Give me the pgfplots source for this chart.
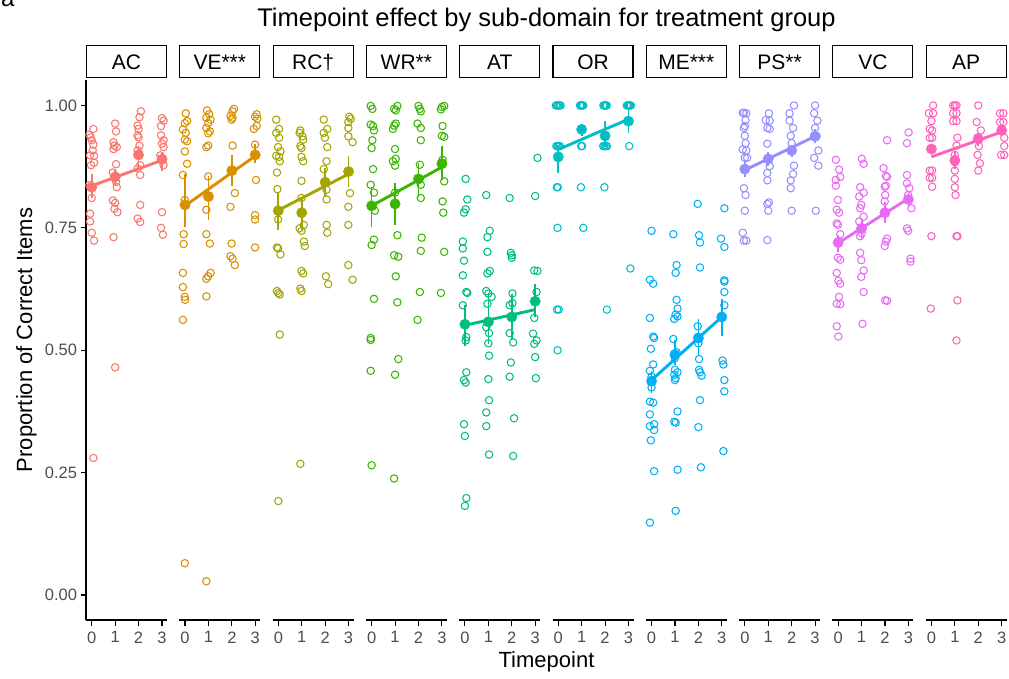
\documentclass[border=0pt]{standalone}
\usepackage{pgfplots}
\pgfplotsset{compat=1.18}
\usepackage{fontspec}
\setmainfont{Liberation Sans}
\definecolor{cAC}{HTML}{F8766D}
\definecolor{cVE}{HTML}{D89000}
\definecolor{cRC}{HTML}{A3A500}
\definecolor{cWR}{HTML}{39B600}
\definecolor{cAT}{HTML}{00BF7D}
\definecolor{cOR}{HTML}{00BFC4}
\definecolor{cME}{HTML}{00B0F6}
\definecolor{cPS}{HTML}{9590FF}
\definecolor{cVC}{HTML}{E76BF3}
\definecolor{cAP}{HTML}{FF62BC}
\definecolor{gray30}{HTML}{4D4D4D}
\newcommand{\tickfont}{\fontsize{16.5}{16.5}\selectfont}
\newcommand{\stripfont}{\fontsize{21}{21}\selectfont}
\pgfplotsset{panel/.style={
  scale only axis, width=81pt, height=539.5pt, anchor=south west,
  xmin=-0.245, xmax=3.215, ymin=-0.051, ymax=1.051,
  axis x line*=bottom, axis y line*=left,
  x axis line style={-, line width=1.1pt, black},
  y axis line style={-, line width=1.1pt, black},
  xtick={0,1,2,3}, xticklabels={0,1,2,3},
  tick align=outside, major tick length=5.5pt,
  tick style={line width=1.1pt, black},
  xticklabel style={font=\tickfont, text=gray30, yshift=-2.5pt},
  yticklabel style={font=\tickfont, text=gray30},
  clip=false},
  noy/.style={y axis line style={draw=none}, ytick=\empty}}
\newcommand{\panel}[7]{%
\begin{axis}[panel, at={(#1pt,58pt)}, #7]
\addplot[only marks, mark=o, color=#2, mark size=3.7pt, mark options={solid, line width=1.05pt}] coordinates {#4};
\addplot[color=#2, line width=2.9pt] coordinates {#6};
\addplot[only marks, mark=*, color=#2, mark size=5.2pt, error bars/.cd, y dir=both, y explicit, error mark=none, error bar style={line width=1.7pt, color=#2}] coordinates {#5};
\end{axis}
\draw[line width=1.1pt, fill=white] (#1+0.5,600.5) rectangle (#1+80.5,632.5);
\node[font=\stripfont, anchor=base, inner sep=0pt] at (#1+40.5,608) {#3};
}
\begin{document}
\begin{tikzpicture}[x=1pt,y=1pt]
\useasboundingbox (0,0) rectangle (1009,678);
\node[font=\fontsize{24}{24}\selectfont, anchor=base west, inner sep=0pt] at (1,671.5) {a};
\node[font=\fontsize{25.5}{25.5}\selectfont, anchor=base, inner sep=0pt] at (546.5,651) {Timepoint effect by sub-domain for treatment group};
\node[font=\fontsize{22}{22}\selectfont, anchor=base, inner sep=0pt] at (546.5,11) {Timepoint};
\node[font=\fontsize{22}{22}\selectfont, anchor=base, inner sep=0pt, rotate=90] at (32,338) {Proportion of Correct Items};

\panel{86}{cAC}{AC}{(0.07,0.952)(-0.10,0.940)(-0.04,0.935)(0.00,0.929)(0.07,0.920)(0.04,0.908)(-0.07,0.898)(0.10,0.897)(0.10,0.883)(-0.03,0.878)(-0.10,0.837)(0.00,0.811)(-0.07,0.779)(-0.07,0.763)(0.00,0.740)(0.10,0.724)(0.07,0.280)
(1.00,0.963)(1.04,0.947)(0.93,0.925)(0.97,0.918)(1.07,0.915)(0.93,0.911)(1.04,0.880)(0.90,0.863)(1.04,0.844)(1.07,0.833)(0.90,0.806)(1.00,0.801)(0.97,0.789)(1.10,0.782)(0.93,0.731)(1.00,0.465)
(2.10,0.988)(2.04,0.976)(1.96,0.959)(2.00,0.952)(1.96,0.939)(2.00,0.935)(2.04,0.918)(1.96,0.908)(2.07,0.878)(1.96,0.871)(2.07,0.858)(2.07,0.797)(1.96,0.769)(2.07,0.762)
(3.00,0.974)(3.07,0.969)(2.96,0.958)(2.96,0.939)(3.07,0.929)(3.00,0.922)(3.07,0.915)(2.93,0.898)(3.04,0.891)(3.07,0.878)(3.00,0.782)(2.96,0.750)(3.04,0.736)}
{(0,0.833) += (0,0.028) -= (0,0.023) (1,0.854) += (0,0.017) -= (0,0.017) (2,0.899) += (0,0.019) -= (0,0.025) (3,0.890) += (0,0.015) -= (0,0.023)}
{(0,0.836)(3,0.888)}
{ytick={0,0.25,0.5,0.75,1}, yticklabels={0.00,0.25,0.50,0.75,1.00}}

\panel{179.3}{cVE}{VE***}{(0.03,0.984)(0.09,0.968)(-0.01,0.964)(-0.09,0.951)(0.03,0.944)(-0.01,0.930)(0.09,0.927)(-0.01,0.906)(0.09,0.881)(-0.09,0.858)(-0.01,0.807)(-0.06,0.737)(-0.06,0.717)(-0.09,0.658)(-0.09,0.629)(-0.01,0.609)(0.00,0.603)(-0.09,0.562)(-0.01,0.065)
(0.94,0.990)(1.03,0.982)(0.91,0.975)(1.09,0.971)(0.99,0.964)(0.91,0.954)(1.06,0.947)(0.99,0.943)(0.99,0.918)(0.91,0.915)(0.99,0.855)(0.91,0.787)(0.91,0.737)(1.06,0.718)(1.09,0.658)(0.99,0.651)(0.91,0.646)(0.91,0.610)(0.91,0.028)
(2.09,0.993)(2.03,0.988)(1.94,0.979)(2.03,0.975)(1.99,0.971)(2.03,0.918)(2.13,0.821)(1.94,0.793)(1.99,0.718)(1.94,0.692)(2.03,0.687)(2.13,0.674)
(3.06,0.982)(2.99,0.977)(3.09,0.973)(3.06,0.958)(2.94,0.952)(2.99,0.920)(3.03,0.848)(2.99,0.776)(2.99,0.767)(2.99,0.710)}
{(0,0.797) += (0,0.063) -= (0,0.045) (1,0.814) += (0,0.041) -= (0,0.048) (2,0.867) += (0,0.032) -= (0,0.031) (3,0.899) += (0,0.023) -= (0,0.017)}
{(0,0.795)(3,0.897)}{noy}

\panel{272.6}{cRC}{RC†}{(-0.09,0.971)(0.03,0.952)(-0.09,0.944)(0.03,0.934)(-0.01,0.915)(0.09,0.906)(-0.09,0.897)(0.03,0.895)(0.06,0.886)(-0.06,0.863)(-0.04,0.829)(-0.01,0.767)(-0.06,0.710)(-0.01,0.708)(0.09,0.696)(-0.06,0.621)(0.00,0.617)(0.06,0.614)(0.06,0.532)(0.00,0.192)
(0.94,0.949)(0.91,0.944)(1.03,0.937)(1.06,0.930)(0.94,0.917)(0.99,0.913)(0.99,0.895)(1.06,0.886)(0.99,0.846)(0.99,0.811)(1.09,0.756)(0.91,0.749)(0.99,0.744)(1.09,0.722)(1.13,0.713)(0.99,0.662)(1.06,0.657)(0.94,0.626)(0.99,0.621)(0.94,0.268)
(1.94,0.971)(2.09,0.952)(1.94,0.944)(1.99,0.934)(2.09,0.915)(2.06,0.886)(1.94,0.870)(2.06,0.828)(2.06,0.808)(2.06,0.756)(2.09,0.740)(2.03,0.651)(2.13,0.635)
(3.03,0.977)(3.09,0.973)(2.99,0.966)(2.99,0.954)(2.99,0.937)(3.17,0.925)(3.06,0.821)(2.99,0.793)(2.99,0.756)(2.99,0.674)(3.17,0.644)}
{(0,0.785) += (0,0.037) -= (0,0.039) (1,0.781) += (0,0.033) -= (0,0.035) (2,0.843) += (0,0.029) -= (0,0.029) (3,0.865) += (0,0.032) -= (0,0.031)}
{(0,0.786)(3,0.860)}{noy}

\panel{365.9}{cWR}{WR**}{(-0.04,0.999)(0.03,0.993)(-0.04,0.961)(0.06,0.958)(0.10,0.949)(0.03,0.929)(0.00,0.913)(0.06,0.870)(-0.04,0.838)(0.10,0.822)(0.14,0.785)(0.10,0.726)(0.00,0.715)(0.10,0.605)(-0.04,0.525)(-0.04,0.521)(-0.04,0.458)(0.00,0.265)
(1.10,0.999)(0.96,0.993)(1.03,0.990)(1.03,0.963)(0.96,0.959)(0.91,0.952)(1.00,0.911)(1.03,0.891)(0.91,0.886)(1.00,0.877)(1.00,0.822)(1.03,0.799)(1.10,0.735)(0.96,0.694)(1.14,0.691)(1.03,0.651)(1.10,0.598)(1.14,0.482)(1.00,0.450)(0.96,0.238)
(2.00,0.999)(2.06,0.993)(2.10,0.988)(1.96,0.963)(2.10,0.954)(2.10,0.929)(2.06,0.879)(2.10,0.838)(2.10,0.811)(2.14,0.730)(2.10,0.703)(2.06,0.619)(1.96,0.562)
(3.10,0.999)(3.00,0.997)(2.96,0.992)(3.03,0.958)(3.00,0.938)(3.10,0.936)(3.03,0.889)(3.10,0.845)(3.03,0.804)(3.06,0.781)(3.10,0.701)(2.96,0.617)}
{(0,0.795) += (0,0.039) -= (0,0.043) (1,0.799) += (0,0.042) -= (0,0.043) (2,0.850) += (0,0.032) -= (0,0.036) (3,0.881) += (0,0.036) -= (0,0.034)}
{(0,0.795)(3,0.874)}{noy}

\panel{459.2}{cAT}{AT}{(0.03,0.850)(0.10,0.808)(0.03,0.788)(-0.04,0.781)(-0.09,0.722)(-0.09,0.708)(-0.04,0.683)(-0.09,0.653)(0.06,0.619)(0.10,0.617)(-0.09,0.592)(0.06,0.527)(0.03,0.520)(0.06,0.455)(-0.04,0.439)(0.03,0.434)(-0.04,0.349)(0.00,0.325)(0.06,0.198)(0.00,0.182)
(0.91,0.817)(1.06,0.744)(0.96,0.731)(0.96,0.701)(1.06,0.662)(0.96,0.657)(0.91,0.621)(1.00,0.616)(1.14,0.609)(0.96,0.595)(0.91,0.547)(1.03,0.535)(1.00,0.514)(1.03,0.489)(1.00,0.441)(1.03,0.398)(0.91,0.373)(0.91,0.345)(1.03,0.287)
(1.91,0.811)(1.96,0.699)(2.00,0.694)(2.00,0.689)(2.03,0.616)(1.91,0.592)(2.03,0.596)(1.91,0.535)(2.06,0.516)(1.96,0.475)(1.91,0.446)(2.10,0.361)(2.06,0.284)
(3.10,0.893)(3.00,0.815)(2.96,0.663)(3.10,0.662)(3.06,0.619)(2.96,0.566)(2.91,0.534)(3.06,0.520)(2.96,0.513)(3.00,0.486)(3.03,0.443)}
{(0,0.553) += (0,0.040) -= (0,0.045) (1,0.558) += (0,0.045) -= (0,0.045) (2,0.568) += (0,0.047) -= (0,0.045) (3,0.600) += (0,0.036) -= (0,0.032)}
{(0,0.551)(3,0.583)}{noy}

\panel{552.5}{cOR}{OR}{(-0.10,1)(-0.05,1)(0,1)(0.05,1)(0.10,1)(-0.08,0.917)(-0.03,0.917)(0.02,0.917)(0.07,0.917)(-0.06,0.833)(-0.02,0.833)(-0.03,0.75)(-0.05,0.583)(0.02,0.583)(-0.03,0.5)
(0.93,1)(0.97,1)(1,1)(1.03,1)(1.07,1)(0.98,0.917)(1.02,0.917)(0.97,0.833)(1.07,0.75)
(1.93,1)(1.97,1)(2,1)(2.03,1)(2.07,1)(1.92,0.917)(1.97,0.917)(2.03,0.917)(2.08,0.917)(1.97,0.833)(2.08,0.583)
(2.93,1)(2.97,1)(3,1)(3.03,1)(3.07,1)(3.1,1)(3.03,0.917)(3.08,0.667)}
{(0,0.895) += (0,0.025) -= (0,0.032) (1,0.951) += (0,0.012) -= (0,0.013) (2,0.938) += (0,0.030) -= (0,0.023) (3,0.968) += (0,0.024) -= (0,0.024)}
{(0,0.910)(3,0.972)}{noy}

\panel{645.8}{cME}{ME***}{(0.00,0.744)(-0.07,0.644)(0.07,0.636)(-0.07,0.566)(0.07,0.528)(0.11,0.525)(-0.03,0.503)(0.07,0.471)(-0.07,0.458)(0.00,0.446)(0.00,0.424)(-0.07,0.395)(0.07,0.393)(-0.07,0.369)(-0.07,0.345)(0.11,0.349)(0.11,0.337)(-0.03,0.316)(0.11,0.253)(-0.07,0.148)
(0.93,0.737)(1.07,0.674)(1.03,0.658)(1.07,0.603)(1.11,0.585)(1.03,0.573)(1.11,0.569)(0.97,0.564)(0.93,0.523)(1.07,0.496)(1.00,0.484)(1.00,0.460)(1.11,0.455)(0.97,0.450)(1.03,0.443)(1.00,0.439)(1.11,0.375)(0.97,0.354)(1.03,0.352)(1.11,0.256)(1.03,0.172)
(1.97,0.799)(2.03,0.735)(2.07,0.720)(2.07,0.669)(1.97,0.549)(2.00,0.514)(2.03,0.482)(2.03,0.460)(2.07,0.455)(2.14,0.448)(2.07,0.398)(2.00,0.343)(2.11,0.261)
(3.11,0.790)(2.97,0.728)(3.11,0.711)(3.11,0.643)(3.11,0.640)(3.11,0.619)(3.11,0.592)(3.03,0.479)(3.07,0.471)(3.11,0.439)(3.11,0.416)(3.07,0.294)}
{(0,0.437) += (0,0.021) -= (0,0.025) (1,0.491) += (0,0.029) -= (0,0.022) (2,0.525) += (0,0.039) -= (0,0.036) (3,0.568) += (0,0.037) -= (0,0.038)}
{(0,0.439)(3,0.568)}{noy}

\panel{739.1}{cPS}{PS**}{(-0.04,0.985)(0.06,0.984)(0.03,0.970)(-0.04,0.954)(0.00,0.938)(0.03,0.923)(-0.09,0.910)(0.06,0.908)(0.00,0.893)(0.10,0.893)(-0.04,0.831)(0.03,0.817)(0.00,0.785)(-0.09,0.740)(-0.04,0.724)(0.06,0.724)(-0.09,0.985)(0.00,0.958)
(1.03,0.984)(0.89,0.970)(1.06,0.969)(0.96,0.954)(1.06,0.952)(0.96,0.922)(1.00,0.891)(1.06,0.876)(0.96,0.862)(0.96,0.847)(1.03,0.802)(0.96,0.799)(1.00,0.785)(0.96,0.725)
(2.10,1.000)(1.91,0.984)(1.91,0.969)(2.06,0.954)(1.96,0.938)(2.00,0.923)(2.03,0.910)(2.10,0.877)(2.06,0.860)(1.96,0.847)(1.96,0.831)(2.00,0.785)
(3.00,1.000)(2.96,0.984)(3.10,0.969)(3.00,0.954)(3.06,0.937)(3.14,0.908)(2.96,0.893)(3.14,0.877)(3.03,0.785)}
{(0,0.870) += (0,0.014) -= (0,0.016) (1,0.891) += (0,0.013) -= (0,0.015) (2,0.908) += (0,0.012) -= (0,0.013) (3,0.937) += (0,0.014) -= (0,0.014)}
{(0,0.868)(3,0.937)}{noy}

\panel{832.4}{cVC}{VC}{(-0.10,0.889)(0.04,0.869)(0.09,0.854)(-0.10,0.848)(-0.10,0.836)(-0.01,0.807)(-0.06,0.787)(0.04,0.781)(-0.06,0.759)(-0.01,0.756)(0.09,0.737)(-0.01,0.689)(0.09,0.685)(-0.06,0.658)(0.01,0.642)(0.09,0.636)(0.04,0.609)(-0.06,0.595)(0.09,0.594)(-0.06,0.549)(0.01,0.528)
(1.01,0.891)(1.09,0.881)(0.94,0.833)(1.09,0.822)(0.90,0.814)(0.99,0.797)(0.94,0.790)(1.09,0.773)(0.90,0.763)(1.04,0.749)(1.01,0.739)(0.94,0.733)(0.94,0.699)(0.99,0.684)(1.09,0.663)(0.99,0.650)(1.09,0.619)(1.04,0.554)
(2.09,0.929)(1.94,0.872)(2.04,0.856)(2.09,0.854)(2.04,0.836)(1.99,0.834)(2.01,0.817)(1.99,0.804)(2.09,0.728)(2.04,0.722)(1.99,0.713)(2.01,0.602)(2.09,0.601)
(3.01,0.945)(2.94,0.923)(2.94,0.858)(2.94,0.841)(3.04,0.831)(2.99,0.817)(3.13,0.790)(2.94,0.749)(2.99,0.744)(3.09,0.687)(3.09,0.681)}
{(0,0.720) += (0,0.015) -= (0,0.019) (1,0.749) += (0,0.017) -= (0,0.021) (2,0.781) += (0,0.021) -= (0,0.022) (3,0.808) += (0,0.016) -= (0,0.018)}
{(0,0.719)(3,0.810)}{noy}

\panel{925.7}{cAP}{AP}{(0.07,1.000)(-0.11,0.984)(0.07,0.984)(0.00,0.968)(-0.07,0.952)(0.03,0.949)(-0.07,0.934)(0.03,0.934)(-0.07,0.867)(0.03,0.867)(-0.07,0.852)(0.03,0.852)(0.03,0.834)(0.00,0.733)(-0.03,0.585)
(0.93,1.000)(1.07,1.000)(1.00,1.000)(0.93,0.984)(1.07,0.984)(0.93,0.968)(1.07,0.968)(1.11,0.934)(1.07,0.918)(1.00,0.899)(1.00,0.884)(1.00,0.867)(1.00,0.850)(1.00,0.833)(1.03,0.817)(1.11,0.733)(1.07,0.733)(1.11,0.602)(1.07,0.520)
(2.00,1.000)(1.93,0.966)(2.11,0.949)(1.97,0.934)(2.03,0.917)(1.97,0.899)(2.07,0.882)(2.00,0.867)
(2.93,0.984)(3.07,0.984)(2.93,0.966)(3.07,0.966)(3.00,0.949)(3.11,0.934)(3.11,0.917)(2.97,0.899)(3.11,0.899)}
{(0,0.911) += (0,0.011) -= (0,0.014) (1,0.888) += (0,0.018) -= (0,0.018) (2,0.932) += (0,0.012) -= (0,0.015) (3,0.949) += (0,0.010) -= (0,0.011)}
{(0,0.895)(3,0.946)}{noy}
\end{tikzpicture}
\end{document}
